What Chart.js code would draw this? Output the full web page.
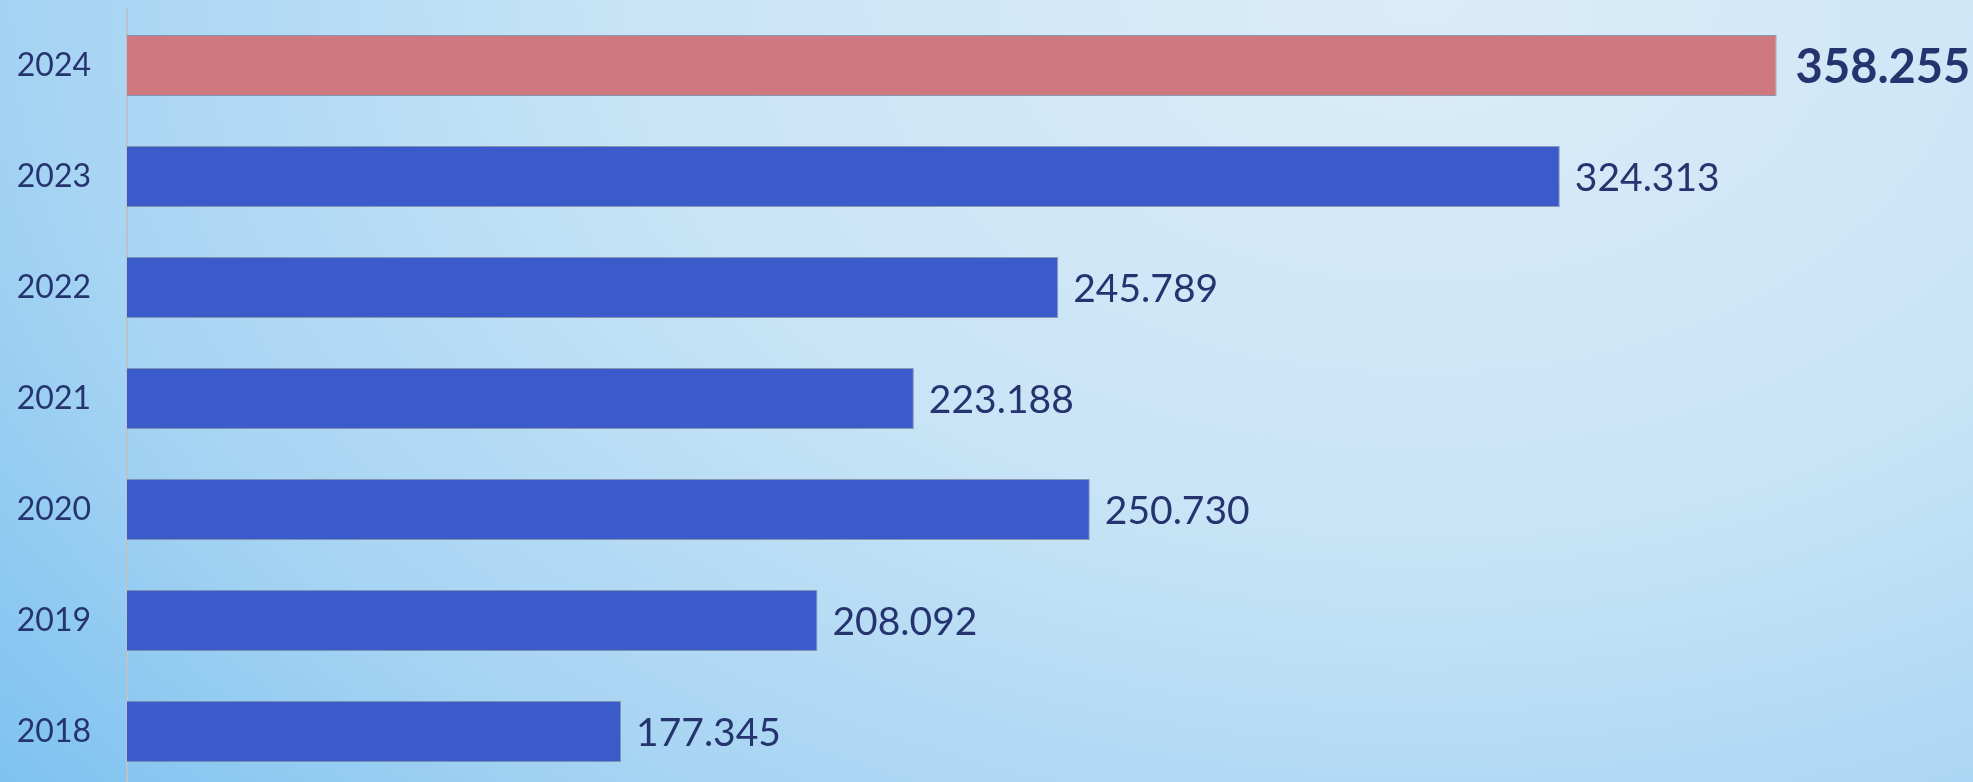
<!DOCTYPE html>
<html>
<head>
<meta charset="utf-8">
<script src="https://cdn.jsdelivr.net/npm/chart.js@4"></script>
<style>
  html, body {
    margin: 0;
    padding: 0;
    overflow: hidden;
    width: 1973px;
    height: 782px;
    background: radial-gradient(ellipse 100% 170% at 72% 0%, #dcecf8 0%, #c8e4f6 40%, #a6d4f3 70%, #72bcef 100%);
  }
  canvas { display: block; }
</style>
</head>
<body>
<canvas id="barCanvas" width="1973" height="787"></canvas>
<script>
// valeurs
const years = ["2024", "2023", "2022", "2021", "2020", "2019", "2018"];
const totals = [358.255, 324.313, 245.789, 223.188, 250.73, 208.092, 177.345];
const highlightYear = "2024";

const textColor = "#25346f";

const barColors = years.map((y) => (y === highlightYear ? "#d07880" : "#3a5bc9"));

const formatValue = (v) => v.toFixed(3);

// dessine les valeurs au bout des barres
const valueLabels = {
  id: "valueLabels",
  afterDatasetsDraw(chart) {
    const { ctx } = chart;
    const meta = chart.getDatasetMeta(0);
    ctx.save();
    ctx.textBaseline = "middle";
    ctx.textAlign = "left";
    meta.data.forEach((bar, i) => {
      const isHighlight = years[i] === highlightYear;
      ctx.fillStyle = textColor;
      ctx.font = isHighlight ? "bold 47px Lato" : "39px Lato";
      ctx.fillText(formatValue(totals[i]), bar.x + (isHighlight ? 19 : 15), bar.y + 2);
    });
    ctx.restore();
  },
};

const barChart = new Chart(document.getElementById("barCanvas"), {
  type: "bar",
  data: {
    labels: years,
    datasets: [
      {
        data: totals,
        backgroundColor: barColors,
        borderColor: "rgba(110,120,150,0.7)",
        borderWidth: 1,
        barPercentage: 0.55,
        categoryPercentage: 1,
      },
    ],
  },
  options: {
    indexAxis: "y",
    responsive: false,
    animation: false,
    layout: {
      padding: { top: 10, right: 0, bottom: 0, left: 0 },
    },
    plugins: {
      legend: { display: false },
      tooltip: { enabled: false },
    },
    scales: {
      x: {
        display: false,
        min: 100,
        max: 389,
      },
      y: {
        afterFit: (scale) => {
          scale.width = 127;
          scale.paddingTop = 0;
          scale.paddingBottom = 0;
        },
        grid: { display: false, drawTicks: false },
        border: { display: true, color: "#b9c3cb", width: 2 },
        ticks: {
          color: textColor,
          padding: 36,
          font: { family: "Lato", size: 32 },
        },
      },
    },
  },
  plugins: [valueLabels],
});
</script>
</body>
</html>
